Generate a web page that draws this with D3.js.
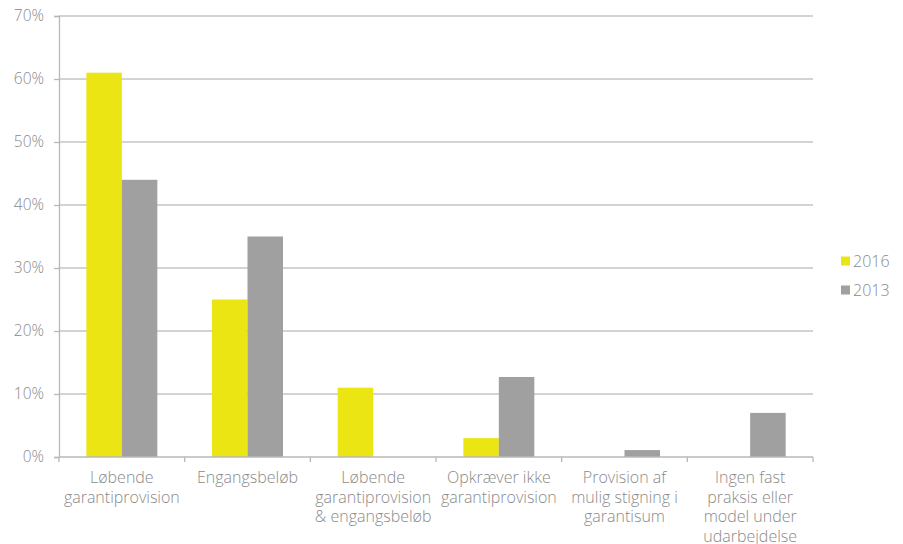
<!DOCTYPE html>
<html><head><meta charset="utf-8">
<script src="https://cdn.jsdelivr.net/npm/d3@7"></script>
<style>
body{margin:0;background:#fff;}
text{font-family:"Open Sans","Noto Sans",sans-serif;font-weight:300;fill:#8a8a8a;}
</style></head>
<body><svg id="c" width="903" height="544"></svg>
<script>
const categories = [
  ["Løbende","garantiprovision"],
  ["Engangsbeløb"],
  ["Løbende","garantiprovision","& engangsbeløb"],
  ["Opkræver ikke","garantiprovision"],
  ["Provision af","mulig stigning i","garantisum"],
  ["Ingen fast","praksis eller","model under","udarbejdelse"]
];
const seriesNames = ["2016","2013"];
const values2016 = [61,25,11,3,0,0];
const values2013 = [44,35,0,12.7,1.1,7];
const yTicks = [0,10,20,30,40,50,60,70];
const colors = ["#ECE514","#A0A0A0"];

const svg = d3.select("#c");
const m = {l:59, r:813, t:16, b:457};
const x = d3.scaleBand().domain(d3.range(categories.length)).range([m.l,m.r]).paddingInner(0).paddingOuter(0);
const x1 = d3.scaleBand().domain(seriesNames).range([0,x.bandwidth()]).paddingOuter(0.77).paddingInner(0);
const y = d3.scaleLinear().domain([0,70]).range([m.b,m.t]);

// gridlines
svg.append("g").selectAll("line").data(yTicks.filter(d=>d>0)).join("line")
  .attr("x1",m.l).attr("x2",m.r).attr("y1",d=>y(d)).attr("y2",d=>y(d))
  .attr("stroke","#C4C4C4").attr("stroke-width",1.3);

// bars
const series = [values2016, values2013];
const g = svg.append("g");
series.forEach((vals,si)=>{
  g.selectAll(null).data(vals).join("rect")
    .attr("x",(d,i)=>x(i)+x1(seriesNames[si]))
    .attr("width",x1.bandwidth())
    .attr("y",d=>y(d)).attr("height",d=>y(0)-y(d))
    .attr("fill",colors[si]);
});

// y axis
const ya = svg.append("g").attr("transform",`translate(${m.l},0)`)
  .call(d3.axisLeft(y).tickValues(yTicks).tickFormat(d=>d+"%").tickSize(5).tickPadding(10));
ya.select(".domain").attr("stroke","#B8B8B8").attr("stroke-width",1.3);
ya.selectAll(".tick line").attr("stroke","#B8B8B8").attr("stroke-width",1.3);
ya.selectAll("text").style("font-size","15.5px").attr("fill","#8a8a8a").style("font-family",null);

// x axis line and ticks
const bounds = d3.range(categories.length+1).map(i=> i<categories.length ? x(i) : m.r);
svg.append("line").attr("x1",m.l).attr("x2",m.r).attr("y1",y(0)).attr("y2",y(0))
  .attr("stroke","#B8B8B8").attr("stroke-width",1.5);
svg.append("g").selectAll("line").data(bounds).join("line")
  .attr("x1",d=>d).attr("x2",d=>d).attr("y1",y(0)).attr("y2",y(0)+5)
  .attr("stroke","#B8B8B8").attr("stroke-width",1.3);

// x labels
const lab = svg.append("g");
categories.forEach((lines,i)=>{
  const t = lab.append("text").attr("text-anchor","middle")
    .attr("x",x(i)+x.bandwidth()/2).attr("y",483).style("font-size","16px");
  lines.forEach((ln,j)=>{
    t.append("tspan").attr("x",x(i)+x.bandwidth()/2).attr("dy",j===0?0:19.5).text(ln);
  });
});

// legend
const lg = svg.append("g");
seriesNames.forEach((s,i)=>{
  const yy = 261 + i*29;
  lg.append("rect").attr("x",841).attr("y",yy-4.5).attr("width",9).attr("height",9).attr("fill",colors[i]);
  lg.append("text").attr("x",853).attr("y",yy).attr("dy","0.35em").style("font-size","16px").text(s);
});
</script></body></html>
